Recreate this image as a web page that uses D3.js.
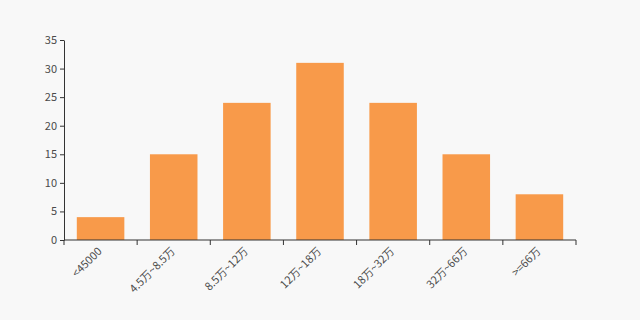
<!DOCTYPE html>
<html>
<head>
<meta charset="utf-8">
<script src="https://cdn.jsdelivr.net/npm/d3@7"></script>
<style>
  body { margin: 0; background: #f8f8f8; }
  svg { display: block; }
  .axis text { font-family: "Noto Sans CJK SC", "DejaVu Sans", sans-serif; font-size: 11px; fill: #4a4a4a; }
  .axis path, .axis line { stroke: #333; }
</style>
</head>
<body>
<svg width="640" height="320"></svg>
<script>
// 收入区间与人数
const categories = ["<45000", "4.5万~8.5万", "8.5万~12万", "12万~18万", "18万~32万", "32万~66万", ">=66万"];
const values = [4, 15, 24, 31, 24, 15, 8];
const yTicks = [0, 5, 10, 15, 20, 25, 30, 35];

const svg = d3.select("svg");
const width = +svg.attr("width");
const height = +svg.attr("height");
const margin = { top: 40, right: 64, bottom: 80, left: 64 };

const x = d3.scaleBand()
  .domain(categories)
  .range([margin.left, width - margin.right])
  .paddingInner(0.35)
  .paddingOuter(0.175);

const xOuter = d3.scaleBand()
  .domain(categories)
  .range([margin.left, width - margin.right]);

const y = d3.scaleLinear()
  .domain([0, 35])
  .range([height - margin.bottom, margin.top]);

// bars
svg.selectAll(".bar")
  .data(values)
  .enter()
  .append("rect")
  .attr("class", "bar")
  .attr("x", (d, i) => x(categories[i]))
  .attr("y", d => y(d))
  .attr("width", x.bandwidth())
  .attr("height", d => y(0) - y(d))
  .attr("fill", "#f89a4a");

// y axis
svg.append("g")
  .attr("class", "axis")
  .attr("transform", `translate(${margin.left},0)`)
  .call(d3.axisLeft(y).tickValues(yTicks).tickSize(4).tickSizeOuter(0).tickPadding(3));

// x axis: ticks on band boundaries
const xAxis = svg.append("g")
  .attr("class", "axis")
  .attr("transform", `translate(0,${height - margin.bottom})`);

xAxis.append("path")
  .attr("d", `M${margin.left},0H${width - margin.right}`);

const boundaries = categories.map(c => xOuter(c)).concat([width - margin.right]);
xAxis.selectAll(".tk")
  .data(boundaries)
  .enter()
  .append("line")
  .attr("x1", d => d).attr("x2", d => d)
  .attr("y1", 0).attr("y2", 5);

xAxis.selectAll(".lbl")
  .data(categories)
  .enter()
  .append("text")
  .attr("text-anchor", "end")
  .attr("transform", d => `translate(${xOuter(d) + xOuter.bandwidth() / 2 + 2},${12}) rotate(-45)`)
  .text(d => d);
</script>
</body>
</html>
